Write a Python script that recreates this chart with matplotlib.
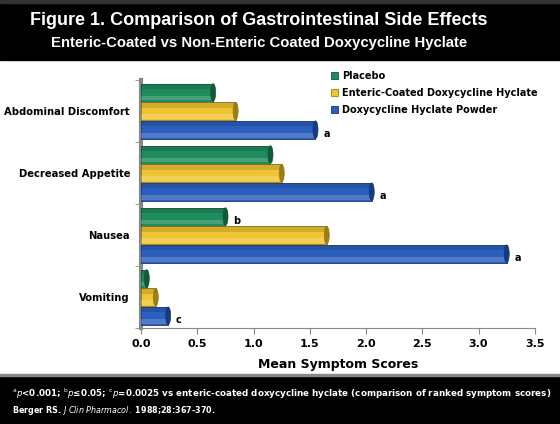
import numpy as np
import matplotlib
matplotlib.use('Agg')
import matplotlib.pyplot as plt
from matplotlib.patches import Rectangle, Ellipse

# data
categories = ['Abdominal Discomfort', 'Decreased Appetite', 'Nausea', 'Vomiting']
series = ['Placebo', 'Enteric-Coated Doxycycline Hyclate', 'Doxycycline Hyclate Powder']
placebo = [0.64, 1.15, 0.75, 0.05]
enteric = [0.84, 1.25, 1.65, 0.13]
powder = [1.55, 2.05, 3.25, 0.24]
notes_placebo = ['', '', 'b', '']
notes_powder = ['a', 'a', 'a', 'c']
xticks = [0.0, 0.5, 1.0, 1.5, 2.0, 2.5, 3.0, 3.5]

colors = ['#1f8c5c', '#f0c534', '#2b5fbd']
edges = ['#0f5a38', '#9c7d10', '#163a80']

plt.rcParams['font.family'] = ['DejaVu Sans']
plt.rcParams['mathtext.fontset'] = 'dejavusans'

fig = plt.figure(figsize=(5.6, 4.24), dpi=100)
fig.patch.set_facecolor('white')

# header / footer bands
fig.add_artist(Rectangle((0, 0.858), 1, 0.142, transform=fig.transFigure, color='black', zorder=0))
fig.add_artist(Rectangle((0, 0.992), 1, 0.008, transform=fig.transFigure, color='#333333', zorder=1))
fig.add_artist(Rectangle((0, 0), 1, 0.115, transform=fig.transFigure, color='black', zorder=0))
fig.add_artist(Rectangle((0, 0.113), 1, 0.004, transform=fig.transFigure, color='#888888', zorder=1))

fig.text(0.462, 0.952, 'Figure 1. Comparison of Gastrointestinal Side Effects', color='white',
         ha='center', va='center', fontsize=13, fontweight='bold', family='Liberation Sans')
fig.text(0.462, 0.898, 'Enteric-Coated vs Non-Enteric Coated Doxycycline Hyclate', color='white',
         ha='center', va='center', fontsize=10.7, fontweight='bold', family='Liberation Sans')

ax = fig.add_axes([0.252, 0.226, 0.703, 0.585])
n = len(categories)
pos = np.arange(n)
h = 0.3
for k, vals in enumerate([placebo, enteric, powder]):
    y = pos - h + k * h
    ax.barh(y, vals, height=h * 0.97, color=colors[k], edgecolor=edges[k], linewidth=0.6,
            label=series[k], zorder=3)
    # lighter / darker stripes to hint the cylinder shading
    ax.barh(y + h * 0.3, vals, height=h * 0.25, color='white', alpha=0.18, zorder=4, linewidth=0)
    ax.barh(y - h * 0.33, vals, height=h * 0.3, color='black', alpha=0.12, zorder=4, linewidth=0)
    for yi, v in zip(y, vals):
        ax.add_patch(Ellipse((v, yi), 0.045, h * 0.95, facecolor=edges[k], edgecolor=edges[k],
                             linewidth=0.5, zorder=5))

for i in range(n):
    if notes_placebo[i]:
        ax.text(placebo[i] + 0.07, pos[i] - h + 0.07, notes_placebo[i], fontsize=7,
                fontweight='bold', va='center', ha='left')
    if notes_powder[i]:
        ax.text(powder[i] + 0.07, pos[i] + h + 0.07, notes_powder[i], fontsize=7,
                fontweight='bold', va='center', ha='left')

ax.set_ylim(n - 0.5, -0.5)
ax.set_xlim(0, 3.5)
ax.set_yticks(pos)
ax.set_yticklabels(categories, fontsize=7.2, fontweight='bold')
ax.set_yticks(np.arange(n + 1) - 0.5, minor=True)
ax.tick_params(axis='y', which='major', length=0, pad=8)
ax.tick_params(axis='y', which='minor', length=4, color='#888888')
ax.set_xticks(xticks)
ax.set_xticklabels(['%.1f' % t for t in xticks], fontsize=8, fontweight='bold')
ax.tick_params(axis='x', length=4, color='#888888', pad=4)
ax.set_xlabel('Mean Symptom Scores', fontsize=9, fontweight='bold', labelpad=6)
for s in ['top', 'right']:
    ax.spines[s].set_visible(False)
ax.spines['left'].set_color('#888888')
ax.spines['left'].set_linewidth(3)
ax.spines['bottom'].set_color('#888888')

leg = ax.legend(loc='upper left', bbox_to_anchor=(0.46, 1.074), frameon=False, fontsize=7,
                handlelength=0.7, handleheight=0.7, handletextpad=0.4, labelspacing=0.75)
for t in leg.get_texts():
    t.set_fontweight('bold')

fig.text(0.022, 0.072,
         r'$^{\mathrm{a}}\mathit{p}$<0.001; $^{\mathrm{b}}\mathit{p}$≤0.05; $^{\mathrm{c}}\mathit{p}$=0.0025 '
         'vs enteric-coated doxycycline hyclate (comparison of ranked symptom scores)',
         color='white', fontsize=6.3, fontweight='bold', va='center', ha='left')
fig.text(0.022, 0.032, r'Berger RS. $\mathit{J\ Clin\ Pharmacol.}$ 1988;28:367-370.',
         color='white', fontsize=5.8, fontweight='bold', va='center', ha='left')

fig.savefig('out.png', dpi=100, facecolor=fig.get_facecolor())
